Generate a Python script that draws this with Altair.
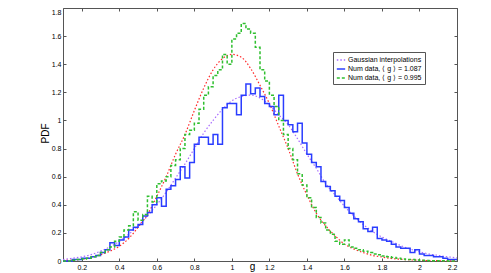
import altair as alt
import pandas as pd

# ---- data ----
BIN_START = 0.1
BIN_WIDTH = 0.025

BLUE_PDF = [
    0.00, 0.00, 0.01, 0.01, 0.02, 0.02, 0.03, 0.04, 0.06, 0.08,
    0.13, 0.11, 0.15, 0.17, 0.22, 0.24, 0.26, 0.32, 0.345, 0.40,
    0.45, 0.39, 0.51, 0.535, 0.58, 0.67, 0.59, 0.70, 0.83, 0.88,
    0.88, 0.83, 0.90, 0.83, 1.09, 1.12, 1.12, 1.04, 1.18, 1.26,
    1.19, 1.23, 1.17, 1.12, 1.10, 1.04, 1.18, 1.00, 0.97, 0.92,
    0.98, 0.84, 0.76, 0.70, 0.67, 0.565, 0.53, 0.50, 0.46, 0.43,
    0.38, 0.34, 0.30, 0.28, 0.23, 0.21, 0.24, 0.16, 0.15, 0.14,
    0.12, 0.10, 0.09, 0.09, 0.06, 0.08, 0.05, 0.04, 0.04, 0.03,
    0.03, 0.02, 0.01, 0.01,
]

GREEN_PDF = [
    0.00, 0.00, 0.005, 0.01, 0.015, 0.02, 0.03, 0.04, 0.06, 0.08,
    0.10, 0.14, 0.17, 0.22, 0.25, 0.35, 0.29, 0.33, 0.46, 0.42,
    0.55, 0.57, 0.60, 0.68, 0.72, 0.80, 0.90, 0.93, 0.98, 1.08,
    1.18, 1.24, 1.32, 1.36, 1.47, 1.40, 1.58, 1.62, 1.69, 1.65,
    1.62, 1.52, 1.36, 1.28, 1.18, 1.10, 1.00, 0.90, 0.80, 0.72,
    0.62, 0.54, 0.45, 0.38, 0.31, 0.27, 0.22, 0.19, 0.14, 0.12,
    0.15, 0.10, 0.09, 0.08, 0.07, 0.06, 0.05, 0.045, 0.035, 0.03,
    0.025, 0.02, 0.015, 0.01, 0.01, 0.008, 0.005, 0.003, 0.002, 0.002,
    0.001, 0.001, 0.0, 0.0,
]

CURVE_X = [
    0.10, 0.15, 0.20, 0.25, 0.30, 0.35, 0.40, 0.45, 0.50, 0.55,
    0.60, 0.65, 0.70, 0.75, 0.80, 0.85, 0.90, 0.95, 1.00, 1.05,
    1.10, 1.15, 1.20, 1.25, 1.30, 1.35, 1.40, 1.45, 1.50, 1.55,
    1.60, 1.65, 1.70, 1.75, 1.80, 1.85, 1.90, 1.95, 2.00, 2.05,
    2.10, 2.15, 2.20,
]

RED_FIT = [
    0.003, 0.006, 0.012, 0.025, 0.045, 0.07, 0.105, 0.16, 0.24, 0.33,
    0.46, 0.60, 0.76, 0.90, 1.07, 1.23, 1.36, 1.44, 1.47, 1.45,
    1.37, 1.25, 1.12, 0.96, 0.80, 0.62, 0.47, 0.34, 0.25, 0.18,
    0.12, 0.085, 0.06, 0.04, 0.028, 0.018, 0.012, 0.008, 0.005, 0.003,
    0.002, 0.001, 0.001,
]

PURPLE_FIT = [
    0.01, 0.02, 0.03, 0.045, 0.07, 0.10, 0.14, 0.19, 0.25, 0.32,
    0.40, 0.49, 0.59, 0.69, 0.80, 0.91, 1.00, 1.08, 1.14, 1.17,
    1.18, 1.16, 1.11, 1.04, 0.97, 0.87, 0.76, 0.66, 0.55, 0.47,
    0.39, 0.32, 0.26, 0.21, 0.17, 0.14, 0.11, 0.085, 0.065, 0.05,
    0.04, 0.03, 0.022,
]

X_TICKS = [0.2, 0.4, 0.6, 0.8, 1.0, 1.2, 1.4, 1.6, 1.8, 2.0, 2.2]
Y_TICKS = [0, 0.2, 0.4, 0.6, 0.8, 1.0, 1.2, 1.4, 1.6, 1.8]

SERIES = [
    "Gaussian interpolations",
    "Num data, \u27e8 g \u27e9 = 1.087",
    "Num data, \u27e8 g \u27e9 = 0.995",
]

# ---- tables ----
edges = [round(BIN_START + BIN_WIDTH * i, 4) for i in range(len(BLUE_PDF) + 1)]
blue_df = pd.DataFrame({"x": edges, "v": BLUE_PDF + [BLUE_PDF[-1]], "s": SERIES[1]})
green_df = pd.DataFrame({"x": edges, "v": GREEN_PDF + [GREEN_PDF[-1]], "s": SERIES[2]})
purple_df = pd.DataFrame({"x": CURVE_X, "v": PURPLE_FIT, "s": SERIES[0]})
red_df = pd.DataFrame({"x": CURVE_X, "v": RED_FIT})

FONT = "Liberation Sans"
FRAME = "#555555"

xs = alt.Scale(domain=[0.1, 2.2], nice=False, zero=False)
ys = alt.Scale(domain=[0, 1.8], nice=False, zero=True)
color_scale = alt.Scale(domain=SERIES, range=["#a86bff", "#2a3dff", "#2fbf2f"])
dash_scale = alt.Scale(domain=SERIES, range=[[1.5, 2], [1, 0], [3, 2]])

legend = alt.Legend(
    title=None, orient="none", legendX=270, legendY=44,
    symbolType="stroke", symbolSize=70, symbolStrokeWidth=1.5,
    labelFont=FONT, labelFontSize=7, labelColor="black",
    strokeColor=FRAME, fillColor="white", padding=3,
    rowPadding=1, labelOffset=2,
)

ax_main_x = alt.Axis(
    values=X_TICKS, format="~g", labelFont=FONT, labelFontSize=7,
    labelColor="black", labelPadding=2, tickSize=0, domain=False, grid=False,
    title="g", titleFont=FONT, titleFontSize=10, titleFontWeight="normal",
    titleColor="black", titleX=189, titleY=8, titleAlign="center",
    titleBaseline="alphabetic",
)
ax_main_y = alt.Axis(
    values=Y_TICKS, format="~g", labelFont=FONT, labelFontSize=7,
    labelColor="black", labelPadding=2, tickSize=0, domain=False, grid=False,
    labelBaseline={"expr": "datum.value >= 1.79 ? 'top' : 'middle'"},
    title="PDF", titleFont=FONT, titleFontSize=10, titleFontWeight="normal",
    titleColor="black", titleX=-18, titleY=125, titleAngle=270,
    titleAlign="center", titleBaseline="middle",
)


def tick_axis(orient, values):
    return alt.Axis(
        orient=orient, values=values, offset=-3, tickSize=3, labels=False,
        domain=False, grid=False, title=None, tickColor=FRAME, tickWidth=1,
    )


purple = alt.Chart(purple_df).mark_line(
    strokeWidth=1.2, interpolate="monotone"
).encode(
    x=alt.X("x:Q", scale=xs, axis=tick_axis("top", X_TICKS)),
    y=alt.Y("v:Q", scale=ys, axis=tick_axis("right", Y_TICKS)),
    color=alt.Color("s:N", scale=color_scale, legend=legend),
    strokeDash=alt.StrokeDash("s:N", scale=dash_scale, legend=legend),
)

red = alt.Chart(red_df).mark_line(
    color="#ff2a2a", strokeDash=[1.5, 2], strokeWidth=1.2, interpolate="monotone"
).encode(
    x=alt.X("x:Q", scale=xs, axis=tick_axis("bottom", X_TICKS)),
    y=alt.Y("v:Q", scale=ys, axis=tick_axis("left", Y_TICKS)),
)

blue = alt.Chart(blue_df).mark_line(
    strokeWidth=1.5, interpolate="step-after"
).encode(
    x=alt.X("x:Q", scale=xs, axis=ax_main_x),
    y=alt.Y("v:Q", scale=ys, axis=ax_main_y),
    color=alt.Color("s:N", scale=color_scale, legend=legend),
    strokeDash=alt.StrokeDash("s:N", scale=dash_scale, legend=legend),
)

green = alt.Chart(green_df).mark_line(
    strokeWidth=1.5, interpolate="step-after"
).encode(
    x=alt.X("x:Q", scale=xs, axis=None),
    y=alt.Y("v:Q", scale=ys, axis=None),
    color=alt.Color("s:N", scale=color_scale, legend=legend),
    strokeDash=alt.StrokeDash("s:N", scale=dash_scale, legend=legend),
)

chart = alt.layer(purple, red, blue, green).resolve_axis(
    x="independent", y="independent"
).properties(
    width=394, height=253,
    autosize=alt.AutoSizeParams(type="none"),
    padding={"left": 55, "top": 0, "right": 20, "bottom": 14},
    background="white",
).configure_view(stroke=FRAME, strokeWidth=1)

chart.save("out.html", embed_options={"renderer": "svg", "actions": False})
